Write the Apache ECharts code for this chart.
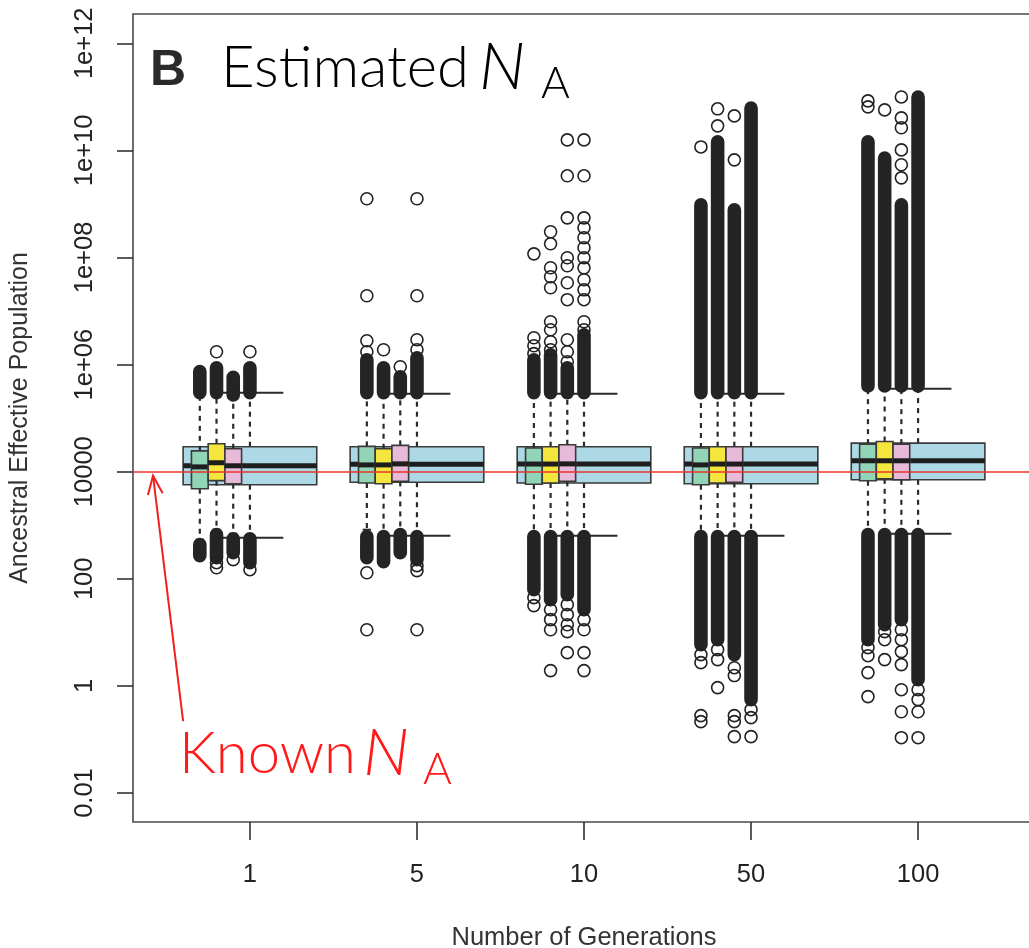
<!DOCTYPE html>
<html>
<head>
<meta charset="utf-8">
<script src="https://cdn.jsdelivr.net/npm/echarts@6/dist/echarts.min.js"></script>
<style>
  html, body { margin: 0; padding: 0; background: #fff; }
  #chart { width: 1029px; height: 948px; }
</style>
</head>
<body>
<div id="chart"></div>
<script>
var generations = ['1', '5', '10', '50', '100'];
var yTickValues = [0.01, 1, 100, 1e4, 1e6, 1e8, 1e10, 1e12];
var yTickLabels = ['0.01', '1', '100', '10000', '1e+06', '1e+08', '1e+10', '1e+12'];
var knownNA = 10000;

// boxes: [lower whisker, Q1, median, Q3, upper whisker] per generation
var boxAll = [
  [586, 5710, 12900, 29300, 2.98e5],
  [639, 6370, 13800, 29300, 2.86e5],
  [639, 6150, 13900, 29300, 2.86e5],
  [639, 5940, 13900, 29300, 2.86e5],
  [696, 7060, 16000, 34200, 3.54e5]
];
var boxGreen = [
  [538, 4810, 12300, 24500, 2.74e5],
  [826, 6150, 13400, 29700, 2.74e5],
  [612, 5830, 13900, 27700, 2.74e5],
  [612, 5710, 13400, 27700, 2.74e5],
  [667, 6770, 16000, 32700, 4.03e5]
];
var boxYellow = [
  [826, 6800, 14700, 33300, 2.74e5],
  [612, 5970, 13400, 26800, 2.74e5],
  [612, 6150, 13900, 29300, 2.74e5],
  [612, 6150, 13900, 29300, 2.74e5],
  [667, 7360, 16000, 36600, 4.03e5]
];
var boxPink = [
  [696, 5970, 12900, 26800, 2.51e5],
  [612, 6590, 14000, 31000, 2.74e5],
  [612, 6590, 14000, 31800, 2.74e5],
  [612, 6310, 13900, 29300, 2.74e5],
  [667, 7060, 16000, 32700, 4.03e5]
];

// dense stacks of overlapping outliers: [generation, column, from, to]
var outlierRuns = [
  [0, 0, 3.0e5, 7.4e5], [0, 1, 3.0e5, 8.7e5], [0, 2, 2.7e5, 5.8e5], [0, 3, 3.0e5, 8.7e5],
  [0, 0, 270, 434], [0, 1, 248, 667], [0, 2, 308, 561], [0, 3, 200, 561],
  [1, 0, 3.0e5, 1.23e6], [1, 1, 3.0e5, 8.7e5], [1, 2, 3.0e5, 5.9e5], [1, 3, 3.0e5, 1.34e6],
  [1, 0, 248, 612], [1, 1, 209, 612], [1, 2, 308, 667], [1, 3, 228, 612],
  [2, 0, 3.0e5, 1.23e6], [2, 1, 3.0e5, 1.53e6], [2, 2, 3.0e5, 8.7e5], [2, 3, 3.0e5, 3.6e6],
  [2, 0, 62.7, 612], [2, 1, 40.8, 612], [2, 2, 50.6, 612], [2, 3, 26.5, 612],
  [3, 0, 3.0e5, 9.6e8], [3, 1, 3.0e5, 1.45e10], [3, 2, 3.0e5, 7.8e8], [3, 3, 3.0e5, 6.2e10],
  [3, 0, 5.9, 612], [3, 1, 7.3, 612], [3, 2, 3.84, 612], [3, 3, 0.555, 612],
  [4, 0, 4.0e5, 1.45e10], [4, 1, 4.0e5, 7.2e9], [4, 2, 4.0e5, 9.6e8], [4, 3, 4.0e5, 9.95e10],
  [4, 0, 7.3, 667], [4, 1, 13.9, 667], [4, 2, 17.3, 667], [4, 3, 1.31, 667]
];

// single outliers: [generation, column, value]
var outlierPoints = [
  [0, 1, 1.74e6], [0, 3, 1.74e6],
  [0, 1, 200], [0, 1, 161], [0, 2, 228], [0, 3, 148],
  [1, 0, 1.25e9], [1, 0, 1.93e7], [1, 0, 2.79e6], [1, 0, 1.74e6], [1, 1, 1.89e6], [1, 2, 9.1e5],
  [1, 3, 1.25e9], [1, 3, 1.93e7], [1, 3, 2.91e6], [1, 3, 1.89e6],
  [1, 0, 130], [1, 0, 11.2], [1, 3, 176], [1, 3, 142], [1, 3, 11.2],
  [2, 0, 1.17e8], [2, 0, 3.17e6], [2, 0, 2.25e6], [2, 0, 1.6e6],
  [2, 1, 3.02e8], [2, 1, 1.8e8], [2, 1, 6.43e7], [2, 1, 4.37e7], [2, 1, 2.72e7], [2, 1, 6.3e6], [2, 1, 4.48e6], [2, 1, 2.67e6], [2, 1, 1.89e6],
  [2, 2, 1.57e10], [2, 2, 3.35e9], [2, 2, 5.5e8], [2, 2, 9.9e7], [2, 2, 7e7], [2, 2, 3.37e7], [2, 2, 1.63e7], [2, 2, 2.91e6], [2, 2, 1.74e6], [2, 2, 1.13e6],
  [2, 3, 1.57e10], [2, 3, 3.35e9], [2, 3, 5.5e8], [2, 3, 3.59e8], [2, 3, 2.34e8], [2, 3, 1.52e8], [2, 3, 9.9e7], [2, 3, 6.4e7], [2, 3, 3.84e7], [2, 3, 2.49e7], [2, 3, 1.63e7], [2, 3, 6.3e6], [2, 3, 4.48e6],
  [2, 0, 44.5], [2, 0, 31.6], [2, 1, 26.5], [2, 1, 17.3], [2, 1, 11.2], [2, 2, 32.9], [2, 2, 21.4], [2, 2, 13.9], [2, 2, 10.3], [2, 3, 17.3], [2, 3, 11.2],
  [2, 2, 4.18], [2, 3, 4.18], [2, 1, 1.93], [2, 3, 1.93],
  [3, 0, 1.16e10], [3, 1, 5.97e10], [3, 1, 2.87e10], [3, 2, 4.4e10], [3, 2, 6.65e9],
  [3, 0, 3.84], [3, 0, 2.72], [3, 0, 0.279], [3, 0, 0.215], [3, 1, 4.76], [3, 1, 3.1], [3, 1, 0.93],
  [3, 2, 2.19], [3, 2, 1.56], [3, 2, 0.279], [3, 2, 0.215], [3, 2, 0.113], [3, 3, 0.36], [3, 3, 0.256], [3, 3, 0.113],
  [4, 0, 8.4e10], [4, 0, 6.5e10], [4, 1, 5.7e10], [4, 2, 9.95e10], [4, 2, 4.04e10], [4, 2, 2.64e10], [4, 2, 1.02e10], [4, 2, 5.4e9], [4, 2, 3.07e9],
  [4, 0, 5.19], [4, 0, 3.67], [4, 0, 1.77], [4, 0, 0.63], [4, 1, 10.3], [4, 1, 7.3], [4, 1, 3.1],
  [4, 2, 11.2], [4, 2, 7.3], [4, 2, 4.36], [4, 2, 2.5], [4, 2, 0.85], [4, 2, 0.33], [4, 2, 0.108],
  [4, 3, 0.85], [4, 3, 0.555], [4, 3, 0.33], [4, 3, 0.108]
];

// arrow annotation pointing to the known value, in data coords
var arrowFrom = [0.6, 0.22];
var arrowTo = [0.42, 8400];

// column offsets inside one generation (green, yellow, pink, blue)
var colOffset = [-0.3, -0.2, -0.1, 0];
var narrowW = 0.1;
var wideW = 0.8;

var chart = echarts.init(document.getElementById('chart'));

function boxData(rows, off, w) {
  return rows.map(function (r, i) { return [i + 1 + off, w].concat(r); });
}

function renderBox(fill) {
  return function (params, api) {
    var x = api.value(0), w = api.value(1);
    var lo = api.value(2), q1 = api.value(3), md = api.value(4), q3 = api.value(5), hi = api.value(6);
    var p = function (dx, v) { return api.coord([x + dx, v]); };
    var tl = p(-w / 2, q3), br = p(w / 2, q1);
    var ink = '#2a2a2a';
    return {
      type: 'group',
      children: [
        { type: 'line', shape: { x1: p(0, q3)[0], y1: p(0, q3)[1], x2: p(0, hi)[0], y2: p(0, hi)[1] },
          style: { stroke: ink, lineWidth: 2.2, lineDash: [5, 5] } },
        { type: 'line', shape: { x1: p(0, q1)[0], y1: p(0, q1)[1], x2: p(0, lo)[0], y2: p(0, lo)[1] },
          style: { stroke: ink, lineWidth: 2.2, lineDash: [5, 5] } },
        { type: 'line', shape: { x1: p(-w / 4, hi)[0], y1: p(0, hi)[1], x2: p(w / 4, hi)[0], y2: p(0, hi)[1] },
          style: { stroke: ink, lineWidth: 2 } },
        { type: 'line', shape: { x1: p(-w / 4, lo)[0], y1: p(0, lo)[1], x2: p(w / 4, lo)[0], y2: p(0, lo)[1] },
          style: { stroke: ink, lineWidth: 2 } },
        { type: 'rect', shape: { x: tl[0], y: tl[1], width: br[0] - tl[0], height: br[1] - tl[1] },
          style: { fill: fill, stroke: '#3a3a3a', lineWidth: 1.6 } },
        { type: 'line', shape: { x1: tl[0], y1: p(0, md)[1], x2: br[0], y2: p(0, md)[1] },
          style: { stroke: '#1e1e1e', lineWidth: 5 } }
      ]
    };
  };
}

function boxSeries(rows, off, w, fill) {
  return {
    type: 'custom',
    renderItem: renderBox(fill),
    encode: { x: 0, y: [2, 3, 4, 5, 6] },
    data: boxData(rows, off, w),
    silent: true,
    clip: true
  };
}

var runData = outlierRuns.map(function (r) { return [r[0] + 1 + colOffset[r[1]], r[2], r[3]]; });
var pointData = outlierPoints.map(function (r) { return [r[0] + 1 + colOffset[r[1]], r[2]]; });

var labelFont = { fontFamily: 'Liberation Sans', fontSize: 25.5, color: '#222' };

var option = {
  animation: false,
  backgroundColor: '#fff',
  grid: {
    left: 133, top: 14, width: 902, height: 808,
    outerBoundsMode: 'none',
    containLabel: false,
    show: true, borderColor: '#4a4a4a', borderWidth: 1.6, backgroundColor: 'transparent'
  },
  xAxis: {
    type: 'value', min: 0.3, max: 5.7,
    name: 'Number of Generations', nameLocation: 'middle', nameGap: 103,
    nameTextStyle: { fontFamily: 'Liberation Sans', fontSize: 25.5, color: '#333' },
    axisLine: { show: false },
    splitLine: { show: false },
    axisTick: { show: true, length: 18, customValues: [1, 2, 3, 4, 5], lineStyle: { color: '#333', width: 1.6 } },
    axisLabel: Object.assign({
      customValues: [1, 2, 3, 4, 5], margin: 40,
      formatter: function (v) { return generations[Math.round(v) - 1]; }
    }, labelFont)
  },
  yAxis: {
    type: 'log', logBase: 10, min: 0.002877, max: 3.52e12,
    name: 'Ancestral Effective Population', nameLocation: 'middle', nameGap: 100, nameRotate: 90,
    nameTextStyle: { fontFamily: 'Liberation Sans', fontSize: 25, color: '#333' },
    axisLine: { show: false },
    splitLine: { show: false },
    axisTick: { show: true, length: 16, customValues: yTickValues, lineStyle: { color: '#333', width: 1.6 } },
    axisLabel: Object.assign({
      customValues: yTickValues, rotate: 90, margin: 35,
      formatter: function (v) {
        var k = Math.round(Math.log10(v));
        var i = yTickValues.findIndex(function (t) { return Math.round(Math.log10(t)) === k; });
        return i >= 0 ? yTickLabels[i] : '';
      }
    }, labelFont)
  },
  series: [
    boxSeries(boxAll, 0, wideW, '#add8e6'),
    boxSeries(boxGreen, colOffset[0], narrowW, '#92d4b8'),
    boxSeries(boxYellow, colOffset[1], narrowW, '#f5e63e'),
    boxSeries(boxPink, colOffset[2], narrowW, '#e8bada'),
    {
      type: 'custom',
      silent: true,
      encode: { x: 0, y: [1, 2] },
      data: runData,
      renderItem: function (params, api) {
        var a = api.coord([api.value(0), api.value(1)]);
        var b = api.coord([api.value(0), api.value(2)]);
        var r = 6.8;
        return {
          type: 'rect',
          shape: { x: a[0] - r, y: b[1] - r, width: 2 * r, height: a[1] - b[1] + 2 * r, r: r },
          style: { fill: '#242424' }
        };
      }
    },
    {
      type: 'scatter',
      silent: true,
      symbol: 'circle',
      symbolSize: 12,
      data: pointData,
      itemStyle: { color: 'rgba(0,0,0,0)', borderColor: '#222', borderWidth: 1.6, opacity: 1 },
      z: 3
    },
    {
      type: 'line',
      data: [],
      z: 5,
      markLine: {
        silent: true,
        symbol: 'none',
        label: { show: false },
        lineStyle: { color: '#e8342c', width: 1.5, type: 'solid' },
        data: [{ yAxis: knownNA }]
      }
    }
  ]
};

chart.setOption(option);

// arrow + text annotations
var tail = chart.convertToPixel({ gridIndex: 0 }, arrowFrom);
var tip = chart.convertToPixel({ gridIndex: 0 }, arrowTo);
var ang = Math.atan2(tail[1] - tip[1], tail[0] - tip[0]);
var arm = 20;
var h1 = [tip[0] + arm * Math.cos(ang - 0.38), tip[1] + arm * Math.sin(ang - 0.38)];
var h2 = [tip[0] + arm * Math.cos(ang + 0.38), tip[1] + arm * Math.sin(ang + 0.38)];

chart.setOption({
  graphic: [
    { type: 'line', shape: { x1: tail[0], y1: tail[1], x2: tip[0], y2: tip[1] }, style: { stroke: '#f0201c', lineWidth: 2 }, z: 10 },
    { type: 'polyline', shape: { points: [h1, tip, h2] }, style: { stroke: '#f0201c', lineWidth: 2, fill: null }, z: 10 },
    { type: 'text', style: { x: 150, y: 71, text: 'B', font: 'bold 50px "Liberation Sans"', fill: '#2a2a2a', verticalAlign: 'middle' }, z: 10 },
    { type: 'text', style: { x: 221, y: 68, text: 'Estimated', font: '300 58px Lato', fill: '#000', verticalAlign: 'middle' }, z: 10 },
    { type: 'text', style: { x: 479, y: 68, text: 'N', font: 'italic 300 66px Lato', fill: '#000', verticalAlign: 'middle' }, z: 10 },
    { type: 'text', style: { x: 541, y: 84, text: 'A', font: '300 44px Lato', fill: '#000', verticalAlign: 'middle' }, z: 10 },
    { type: 'text', style: { x: 179, y: 754, text: 'Known', font: '300 58px Lato', fill: '#ff1a1a', verticalAlign: 'middle' }, z: 10 },
    { type: 'text', style: { x: 363, y: 754, text: 'N', font: 'italic 300 66px Lato', fill: '#ff1a1a', verticalAlign: 'middle' }, z: 10 },
    { type: 'text', style: { x: 423, y: 770, text: 'A', font: '300 44px Lato', fill: '#ff1a1a', verticalAlign: 'middle' }, z: 10 }
  ]
});
</script>
</body>
</html>
